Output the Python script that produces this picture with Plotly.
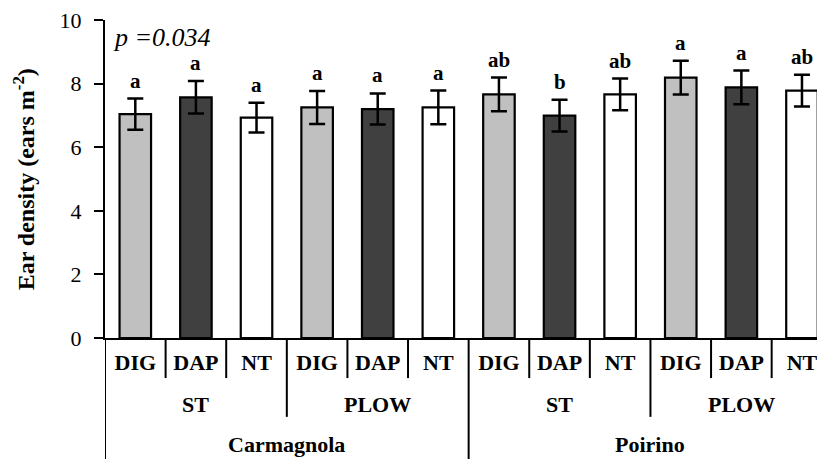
import plotly.graph_objects as go

# ---- data ----
sites = ["Carmagnola", "Poirino"]
tillages = ["ST", "PLOW"]
treatments = ["DIG", "DAP", "NT"]
ear_density = [7.04, 7.57, 6.93, 7.25, 7.20, 7.25, 7.66, 6.99, 7.66, 8.19, 7.88, 7.78]
std_error = [0.49, 0.51, 0.47, 0.52, 0.49, 0.53, 0.53, 0.50, 0.50, 0.53, 0.53, 0.50]
letters = ["a", "a", "a", "a", "a", "a", "ab", "b", "ab", "a", "a", "ab"]
p_label = "p =0.034"
y_title = "Ear density (ears m<sup>-2</sup>)"
y_ticks = [0, 2, 4, 6, 8, 10]

treat_colors = {"DIG": "#c0c0c0", "DAP": "#404040", "NT": "#ffffff"}
FONT = "Liberation Serif, Times New Roman, serif"

# build flat category list
cat_treat, cat_till, cat_site = [], [], []
for s in sites:
    for t in tillages:
        for tr in treatments:
            cat_treat.append(tr)
            cat_till.append(t)
            cat_site.append(s)
xs = list(range(len(cat_treat)))

fig = go.Figure()
fig.add_trace(go.Bar(
    x=xs, y=ear_density,
    width=0.52,
    marker=dict(color=[treat_colors[t] for t in cat_treat],
                line=dict(color="black", width=2.2)),
    error_y=dict(type="data", array=std_error, color="black",
                 thickness=2.5, width=8),
    showlegend=False,
))

annotations = []
# significance letters
for x, m, e, l in zip(xs, ear_density, std_error, letters):
    annotations.append(dict(x=x, y=m + e, xref="x", yref="y", text=l,
                            showarrow=False, yanchor="bottom", yshift=4,
                            font=dict(family=FONT, size=21, color="black", weight="bold")))

# p-value
annotations.append(dict(x=0.008, y=0.945, xref="paper", yref="paper",
                        text="<i>" + p_label + "</i>", showarrow=False,
                        xanchor="left", yanchor="middle",
                        font=dict(family=FONT, size=26, color="black")))

# y-axis title
annotations.append(dict(x=-0.112, y=0.5, xref="paper", yref="paper",
                        text="<b>" + y_title + "</b>", showarrow=False,
                        textangle=-90, xanchor="center", yanchor="middle",
                        font=dict(family=FONT, size=24, color="black")))

shapes = []
n = len(xs)
lvl1 = -0.126
lvl2 = -0.248
lvl3 = -0.385
for i in range(n):
    b = i - 0.5
    if i % 6 == 0:
        ybot = lvl3
    elif i % 3 == 0:
        ybot = lvl2
    else:
        ybot = lvl1
    shapes.append(dict(type="line", xref="x", yref="paper", x0=b, x1=b,
                       y0=0, y1=ybot, line=dict(color="black", width=2)))

# tillage labels
for k in range(len(sites) * len(tillages)):
    xc = k * 3 + 1
    annotations.append(dict(x=xc, y=-0.21, xref="x", yref="paper",
                            text=cat_till[k * 3], showarrow=False,
                            yanchor="middle",
                            font=dict(family=FONT, size=22, color="black", weight="bold")))
# site labels
for k in range(len(sites)):
    xc = k * 6 + 2.5
    annotations.append(dict(x=xc, y=-0.335, xref="x", yref="paper",
                            text=cat_site[k * 6], showarrow=False,
                            yanchor="middle",
                            font=dict(family=FONT, size=22, color="black", weight="bold")))

fig.update_layout(
    width=817, height=451,
    margin=dict(l=97, r=0, t=12, b=121),
    plot_bgcolor="white", paper_bgcolor="white",
    font=dict(family=FONT, color="black"),
    annotations=annotations,
    shapes=shapes,
)
fig.update_xaxes(
    range=[-0.5, 11.38],
    tickmode="array", tickvals=xs, ticktext=cat_treat,
    ticks="", showline=True, linecolor="black", linewidth=2,
    showgrid=False, zeroline=False,
    tickfont=dict(family=FONT, size=22, color="black", weight="bold"),
    ticklabelstandoff=4,
)
fig.update_yaxes(
    range=[0, 10.0001], tickmode="array", tickvals=y_ticks,
    ticks="outside", ticklen=9, tickwidth=2, tickcolor="black",
    showline=True, linecolor="black", linewidth=2,
    showgrid=False, zeroline=False,
    tickfont=dict(family=FONT, size=22, color="black"),
    ticklabelstandoff=8, ticklabeloverflow="allow",
)

fig.write_html("out.html")
